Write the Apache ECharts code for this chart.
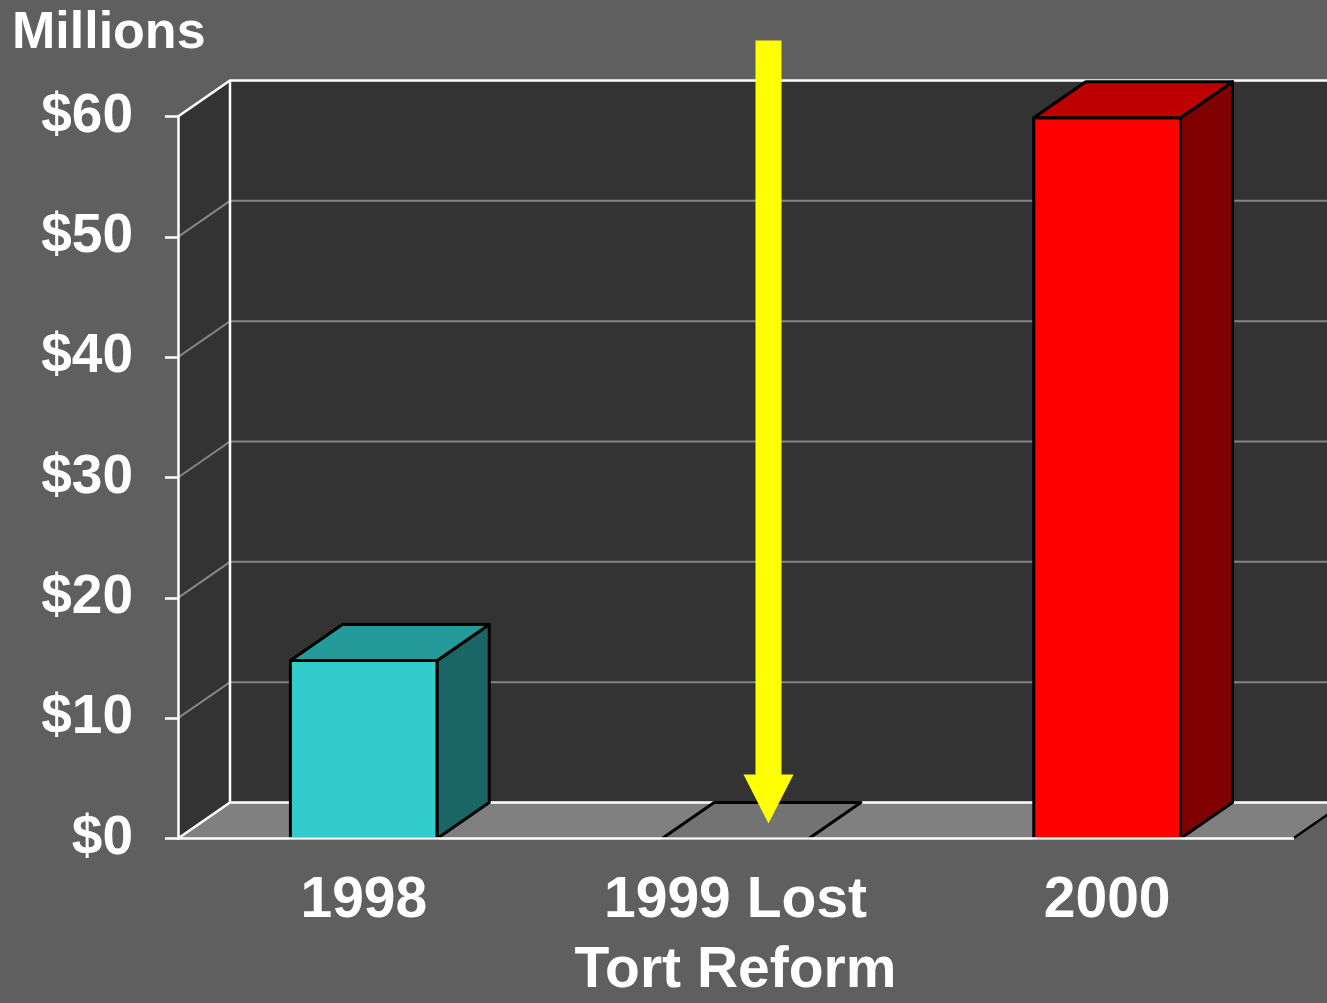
<!DOCTYPE html>
<html>
<head>
<meta charset="utf-8">
<script src="https://cdn.jsdelivr.net/npm/echarts@6/dist/echarts.min.js"></script>
<style>
    html,body{margin:0;padding:0;background:#5f5f5f;}
    #chart{width:1327px;height:1003px;}
</style>
</head>
<body>
<div id="chart"></div>
<script>
    // data
    var categories = ['1998', '1999 Lost\nTort Reform', '2000'];
    var values = [14.8, 0, 59.9];
    var yTicks = [0, 10, 20, 30, 40, 50, 60];
    var lostIndex = 1; // the year pointed at by the arrow

    // styles
    var frontColors = ['#33cccc', '#737373', '#ff0000'];
    var topColors = ['#259a9a', '#737373', '#bf0000'];
    var sideColors = ['#1a6666', '#737373', '#800000'];
    var DX = 52, DY = -36;      // 3d depth offset
    var BAR_RATIO = 0.395;
    var FONT = '"Liberation Sans", Arial, sans-serif';

    var barData = [];
    for (var i = 0; i < categories.length; i++) {
        barData.push([i, values[i]]);
    }
    var tickData = [];
    for (var j = 0; j < yTicks.length; j++) {
        tickData.push([0, yTicks[j]]);
    }

    // plot edges from the axes
    function edges(api) {
        var band = api.size([1, 0])[0];
        var first = api.coord([0, yTicks[0]]);
        var last = api.coord([categories.length - 1, yTicks[0]]);
        var top = api.coord([0, yTicks[yTicks.length - 1]]);
        return {x0: first[0] - band / 2, x1: last[0] + band / 2, yb: first[1], yt: top[1]};
    }

    function renderWalls(params, api) {
        var e = edges(api);
        return {
            type: 'group',
            children: [
                {type: 'polygon', shape: {points: [[e.x0, e.yb], [e.x0, e.yt], [e.x0 + DX, e.yt + DY], [e.x0 + DX, e.yb + DY]]},
                    style: {fill: '#333333'}},
                {type: 'rect', shape: {x: e.x0 + DX, y: e.yt + DY, width: e.x1 - e.x0 + 10, height: e.yb - e.yt},
                    style: {fill: '#333333'}},
                {type: 'polygon', shape: {points: [[e.x0, e.yb], [e.x1, e.yb], [e.x1 + DX, e.yb + DY], [e.x0 + DX, e.yb + DY]]},
                    style: {fill: '#808080'}}
            ]
        };
    }

    function renderGridLine(params, api) {
        var v = api.value(1);
        if (v === yTicks[0] || v === yTicks[yTicks.length - 1]) return;
        var e = edges(api);
        var y = api.coord([0, v])[1];
        return {
            type: 'polyline',
            shape: {points: [[e.x0, y], [e.x0 + DX, y + DY], [e.x1 + DX + 10, y + DY]]},
            style: {stroke: '#858585', lineWidth: 2, fill: null}
        };
    }

    function renderEdges(params, api) {
        var e = edges(api);
        var white = {stroke: '#ffffff', lineWidth: 2.5, fill: null};
        return {
            type: 'group',
            children: [
                {type: 'polyline', shape: {points: [[e.x0, e.yt], [e.x0 + DX, e.yt + DY], [e.x1 + DX + 10, e.yt + DY]]}, style: white},
                {type: 'line', shape: {x1: e.x0 + DX, y1: e.yt + DY, x2: e.x0 + DX, y2: e.yb + DY}, style: white},
                {type: 'polyline', shape: {points: [[e.x0, e.yb], [e.x0 + DX, e.yb + DY], [e.x1 + DX + 10, e.yb + DY]]}, style: white},
                {type: 'line', shape: {x1: e.x1, y1: e.yb, x2: e.x1 + DX, y2: e.yb + DY}, style: {stroke: '#000000', lineWidth: 2.5}}
            ]
        };
    }

    function renderBar(params, api) {
        var idx = params.dataIndex;
        var base = api.coord([api.value(0), 0]);
        var top = api.coord([api.value(0), api.value(1)]);
        var w = api.size([1, 0])[0] * BAR_RATIO;
        var l = base[0] - w / 2, r = base[0] + w / 2, yb = base[1], yt = top[1];
        var line = {stroke: '#000000', lineWidth: 3, lineJoin: 'round'};
        var kids = [];
        if (yb - yt > 0.5) {
            kids.push({type: 'polygon', shape: {points: [[l, yt], [r, yt], [r, yb], [l, yb]]},
                style: Object.assign({fill: frontColors[idx]}, line)});
            kids.push({type: 'polygon', shape: {points: [[r, yt], [r + DX, yt + DY], [r + DX, yb + DY], [r, yb]]},
                style: Object.assign({fill: sideColors[idx]}, line)});
        }
        kids.push({type: 'polygon', shape: {points: [[l, yt], [l + DX, yt + DY], [r + DX, yt + DY], [r, yt]]},
            style: Object.assign({fill: topColors[idx]}, line)});
        return {type: 'group', children: kids};
    }

    function renderArrow(params, api) {
        var floor = api.coord([api.value(0), 0]);
        var roof = api.coord([api.value(0), yTicks[yTicks.length - 1]]);
        var cx = floor[0] + 33;
        var tip = floor[1] - 15;
        var headTop = tip - 49;
        return {
            type: 'group',
            children: [
                {type: 'rect', shape: {x: cx - 13, y: roof[1] - 76, width: 26, height: headTop - (roof[1] - 76) + 1},
                    style: {fill: '#ffff00'}},
                {type: 'polygon', shape: {points: [[cx - 25, headTop], [cx + 25, headTop], [cx, tip]]},
                    style: {fill: '#ffff00'}}
            ]
        };
    }

    var chart = echarts.init(document.getElementById('chart'));
    var option = {
        backgroundColor: '#5f5f5f',
        animation: false,
        title: {
            text: 'Millions',
            left: 7,
            top: 3,
            textStyle: {color: '#ffffff', fontSize: 52, fontWeight: 'bold', fontFamily: FONT}
        },
        grid: {left: 178, right: 34, top: 116.5, bottom: 164.5, containLabel: false, outerBoundsMode: 'none'},
        xAxis: {
            type: 'category',
            data: categories,
            z: 10,
            axisLine: {lineStyle: {color: '#ffffff', width: 2.5}},
            axisTick: {length: 14, lineStyle: {color: '#ffffff', width: 2.5}},
            axisLabel: {color: '#ffffff', fontSize: 57, fontWeight: 'bold', fontFamily: FONT,
                lineHeight: 70, margin: 28, interval: 0},
            splitLine: {show: false}
        },
        yAxis: {
            type: 'value',
            min: 0, max: 60, interval: 10,
            z: 10,
            axisLine: {show: true, lineStyle: {color: '#ffffff', width: 2.5}},
            axisTick: {show: true, length: 13, lineStyle: {color: '#ffffff', width: 2.5}},
            axisLabel: {color: '#ffffff', fontSize: 55, fontWeight: 'bold', fontFamily: FONT,
                margin: 45, formatter: '${value}'},
            splitLine: {show: false}
        },
        series: [
            {type: 'custom', name: 'walls', z: 1, silent: true, renderItem: renderWalls, data: [[0, 0]]},
            {type: 'custom', name: 'grid', z: 2, silent: true, renderItem: renderGridLine, data: tickData},
            {type: 'custom', name: 'edges', z: 3, silent: true, renderItem: renderEdges, data: [[0, 0]]},
            {type: 'custom', name: 'Millions', z: 4, renderItem: renderBar, data: barData},
            {type: 'custom', name: 'arrow', z: 5, silent: true, renderItem: renderArrow, data: [[lostIndex, 0]]}
        ]
    };
    chart.setOption(option);
</script>
</body>
</html>
